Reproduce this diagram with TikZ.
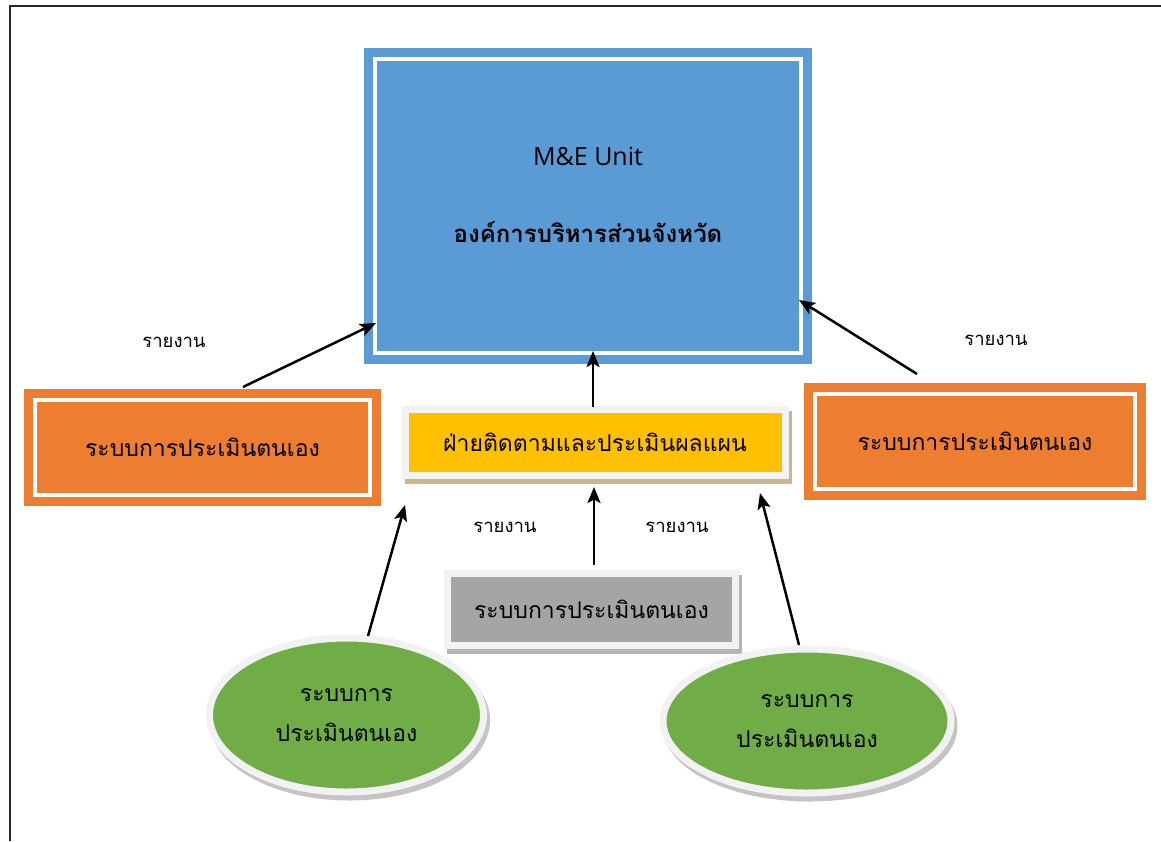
\documentclass[tikz,border=0pt]{standalone}
\usepackage{fontspec}
\setmainfont{Open Sans}
\newfontfamily\thaifont[Script=Thai]{Loma}
\usetikzlibrary{positioning,calc,arrows.meta,shapes.geometric}

\definecolor{meblue}{HTML}{5B9BD5}
\definecolor{selforange}{HTML}{ED7D31}
\definecolor{planyellow}{HTML}{FFC000}
\definecolor{selfgray}{HTML}{A5A5A5}
\definecolor{selfgreen}{HTML}{70AD47}
\definecolor{framegray}{HTML}{F2F2F2}
\definecolor{shadowtan}{HTML}{C8B68C}
\definecolor{shadowgray}{HTML}{B4B4B4}
\definecolor{softshadow}{HTML}{C4C4C4}

\tikzset{
  double box/.style={
    draw=#1, fill=#1,
    line width=9pt, double=white, double distance=4pt,
    outer sep=0pt, inner sep=0pt,
  },
  soft box/.style={
    draw=framegray, fill=#1,
    line width=7pt, outer sep=0pt, inner sep=0pt,
  },
  cast shadow/.style={
    preaction={draw=#1, fill=#1, transform canvas={xshift=3pt, yshift=-5pt}},
  },
  box text/.style={
    font=\thaifont\fontsize{23}{40}\selectfont, align=center,
  },
  report/.style={
    font=\thaifont\fontsize{18.5}{22}\selectfont,
  },
  report arrow/.style={
    -{Stealth[length=16pt,width=13pt,inset=3.5pt]}, line width=2.5pt,
  },
}

\begin{document}
\begin{tikzpicture}[x=1pt, y=-1pt]
        \useasboundingbox (0,0) rectangle (1161,841);
        \draw[line width=2pt, black!85] (9.5,841) -- (9.5,6) -- (1161,6);

        % top unit
        \node [double box=meblue, minimum width=426pt, minimum height=294pt] (mebox) at (588,206) {};
        \node [font=\fontsize{25}{30}\selectfont] (metitle) at ($(mebox)+(0,-50)$) {M\&E Unit};
        \node [font=\thaifont\bfseries\fontsize{24}{30}\selectfont] (meorg) at ($(mebox)+(0,26)$) {องค์การบริหารส่วนจังหวัด};

        \node [double box=selforange, minimum width=335pt, minimum height=95pt, box text] (lorange) at (202.5,447.5) {ระบบการประเมินตนเอง};
        \node [double box=selforange, minimum width=320pt, minimum height=95pt, box text] (rorange) at (975,441) {ระบบการประเมินตนเอง};

        \node [soft box=planyellow, cast shadow=shadowtan, minimum width=380pt, minimum height=66pt, box text] (plan) at (595,442) {ฝ่ายติดตามและประเมินผลแผน};
        \node [soft box=selfgray, cast shadow=shadowgray, minimum width=288pt, minimum height=72pt, box text] (gself) at (591.5,609) {ระบบการประเมินตนเอง};

        \node [soft box=selfgreen, cast shadow=softshadow, ellipse, minimum width=274pt, minimum height=154pt, box text] (lell) at (346.5,715) {ระบบการ\\ประเมินตนเอง};
        \node [soft box=selfgreen, cast shadow=softshadow, ellipse, minimum width=288pt, minimum height=144pt, box text] (rell) at (807,721) {ระบบการ\\ประเมินตนเอง};

        \node [report] (rep1) at (174,342) {รายงาน};
        \node [report] (rep2) at (996,340) {รายงาน};
        \node [report] (rep3) at (505,527) {รายงาน};
        \node [report] (rep4) at (677,527) {รายงาน};

        \draw [report arrow] ($(lorange.north)+(40.5,-13)$) -- ($(mebox.south west)+(1,-30)$);
        \draw [report arrow] ($(rorange.north)+(-58,-19.5)$) -- ($(mebox.south east)+(-2,-53)$);
        \draw [report arrow] ($(plan.north)+(-2,-2)$) -- ($(mebox.south)+(5,-2)$);
        \draw [report arrow] ($(gself.north)+(2.5,-8)$) -- ($(plan.south)+(-1,12)$);
        \draw [report arrow] ($(lell.north)+(21.5,-2)$) -- ($(plan.south west)+(0,30)$);
        \draw [report arrow] ($(rell.north)+(-8,-4)$) -- ($(plan.south east)+(-25,18)$);
      \end{tikzpicture}
\end{document}
